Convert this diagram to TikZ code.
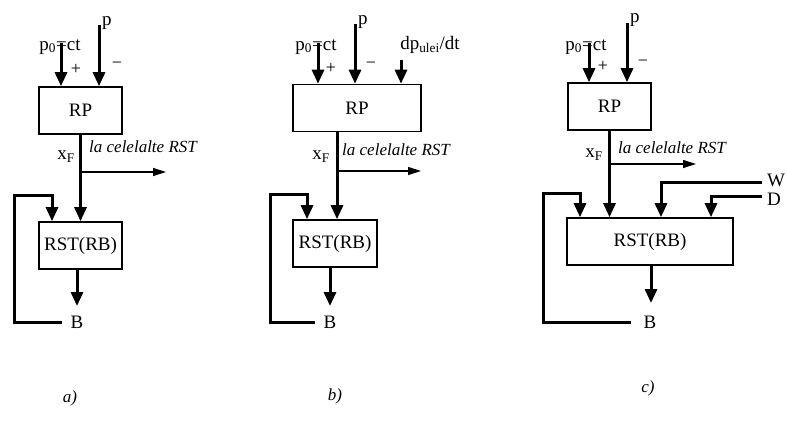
\documentclass[tikz,border=0pt]{standalone}
\usepackage{fontspec}
\setmainfont{Liberation Serif}
\usetikzlibrary{arrows.meta}
\begin{document}
\begin{tikzpicture}[x=1pt,y=-1pt,
  box/.style={draw,line width=1.6pt,minimum width=#1,minimum height=47pt,inner sep=0pt,font=\fontsize{19}{21}\selectfont},
  lbl/.style={inner sep=0pt,font=\fontsize{19}{21}\selectfont},
  small/.style={inner sep=0pt,font=\fontsize{18}{20}\selectfont},
  itl/.style={inner sep=0pt,anchor=west,font=\fontsize{17}{19}\selectfont\itshape},
  captxt/.style={inner sep=0pt,font=\fontsize{17}{19}\selectfont\itshape},
  sig/.style={line width=3pt,-{Triangle[length=14pt,width=12pt]}},
  branch/.style={line width=1.3pt,-{Triangle[length=13pt,width=8pt]}}
]
\useasboundingbox (0,0) rectangle (787,431);

% ---------------- a) ----------------
\node[box=83pt] (rpa) at (80.5,110.5) {RP};
\node[box=83pt] (rsta) at (80.5,245.5) {RST(RB)};
\node[lbl,anchor=base] (p0a) at (60,50) {p\textsubscript{0}=ct};
\coordinate (p0as) at (61,43);
\draw[sig] (p0as) -- (p0as |- rpa.north);
\coordinate (pas) at (99,25);
\node[lbl,anchor=base west] (pla) at (102,25) {p};
\draw[sig] (pas) -- (pas |- rpa.north);
\node[small] (plusa) at (76,69) {+};
\node[small] (minusa) at (117,65) {−};
\draw[sig] (rpa.south) -- (rsta.north);
\node[lbl] (xfa) at (66,157) {x\textsubscript{F}};
\node[itl] (lca) at (89,147) {la celelalte RST};
\coordinate (bea) at (166,172);
\draw[branch] (rpa.south |- bea) -- (bea);
\coordinate (outa) at (77,306);
\draw[sig] (outa |- rsta.south) -- (outa);
\node[lbl] (Ba) at (77,322) {B};
\coordinate (fba) at (14,195);
\draw[sig] ([xshift=-8pt]Ba.west) -| (fba) -| ([xshift=-28.5pt]rsta.north);
\node[captxt] (capa) at (70,398) {a)};

% ---------------- b) ----------------
\node[box=128pt] (rpb) at (357,108) {RP};
\node[box=84pt] (rstb) at (335,243.5) {RST(RB)};
\node[lbl,anchor=base] (p0b) at (316,50) {p\textsubscript{0}=ct};
\coordinate (p0bs) at (318,43);
\draw[sig] (p0bs) -- (p0bs |- rpb.north);
\coordinate (pbs) at (355,24);
\node[lbl,anchor=base west] (plb) at (358,24) {p};
\draw[sig] (pbs) -- (pbs |- rpb.north);
\node[small] (plusb) at (331,68) {+};
\node[small] (minusb) at (371,65) {−};
\node[lbl,anchor=base] (dpb) at (430,49) {dp\textsubscript{ulei}/dt};
\coordinate (dpbs) at (401,60);
\draw[sig] (dpbs) -- (dpbs |- rpb.north);
\coordinate (xfbs) at (337,132);
\draw[sig] (xfbs) -- (xfbs |- rstb.north);
\node[lbl] (xfb) at (321,157) {x\textsubscript{F}};
\node[itl] (lcb) at (342,150) {la celelalte RST};
\coordinate (beb) at (421,171);
\draw[branch] (xfbs |- beb) -- (beb);
\coordinate (outb) at (330,306);
\draw[sig] (outb |- rstb.south) -- (outb);
\node[lbl] (Bb) at (330,322) {B};
\coordinate (fbb) at (270,194);
\draw[sig] ([xshift=-8pt]Bb.west) -| (fbb) -| ([xshift=-28pt]rstb.north);
\node[captxt] (capb) at (335,396) {b)};

% ---------------- c) ----------------
\node[box=83pt] (rpc) at (609.5,106.5) {RP};
\node[box=166pt] (rstc) at (650,241.5) {RST(RB)};
\node[lbl,anchor=base] (p0c) at (586,50) {p\textsubscript{0}=ct};
\coordinate (p0cs) at (589,43);
\draw[sig] (p0cs) -- (p0cs |- rpc.north);
\coordinate (pcs) at (627,23);
\node[lbl,anchor=base west] (plc) at (630,23) {p};
\draw[sig] (pcs) -- (pcs |- rpc.north);
\node[small] (plusc) at (603,66) {+};
\node[small] (minusc) at (643,63) {−};
\draw[sig] (rpc.south) -- (rpc.south |- rstc.north);
\node[lbl] (xfc) at (594,155) {x\textsubscript{F}};
\node[itl] (lcc) at (618,148) {la celelalte RST};
\coordinate (bec) at (696,164);
\draw[branch] (rpc.south |- bec) -- (bec);
\coordinate (outc) at (651,303);
\draw[sig] (outc |- rstc.south) -- (outc);
\node[lbl] (Bc) at (650,322) {B};
\coordinate (fbc) at (543,193);
\draw[sig] ([xshift=-12pt]Bc.west) -| (fbc) -| ([xshift=-70pt]rstc.north);
\node[lbl,anchor=west] (Wc) at (767,180) {W};
\node[lbl,anchor=west] (Dc) at (767,199) {D};
\draw[sig] (762,182) -| ([xshift=11pt]rstc.north);
\draw[sig] (762,196) -| ([xshift=61pt]rstc.north);
\node[captxt] (capc) at (648,388) {c)};
\end{tikzpicture}
\end{document}
